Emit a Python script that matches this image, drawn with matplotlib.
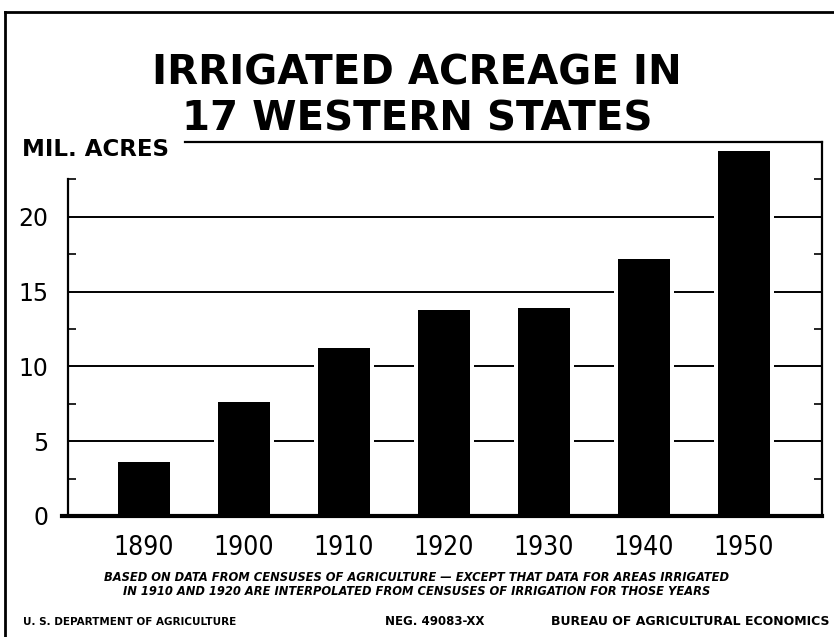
import matplotlib.pyplot as plt
import matplotlib.lines as mlines
from matplotlib.ticker import FixedLocator

years = ['1890', '1900', '1910', '1920', '1930', '1940', '1950']
acres = [3.6, 7.6, 11.2, 13.8, 13.9, 17.2, 24.4]  # million acres
yticks = [0, 5, 10, 15, 20]
minor_ticks = [2.5, 7.5, 12.5, 17.5, 22.5]

note1 = 'BASED ON DATA FROM CENSUSES OF AGRICULTURE \u2014 EXCEPT THAT DATA FOR AREAS IRRIGATED'
note2 = 'IN 1910 AND 1920 ARE INTERPOLATED FROM CENSUSES OF IRRIGATION FOR THOSE YEARS'

fig = plt.figure(figsize=(8.34, 6.37), dpi=100, facecolor='white')
ax = fig.add_axes([0.0815, 0.190, 0.904, 0.587])

x = list(range(len(years)))

# grid lines first; a wider white bar behind each black bar so lines stop short
for v in yticks[1:]:
    ax.axhline(v, color='black', lw=1.4, zorder=1)
ax.bar(x, acres, width=0.60, color='white', zorder=1.5)
ax.bar(x, acres, width=0.52, color='black', zorder=2)
ax.axhline(0, xmin=-0.008, color='black', lw=3, zorder=3, clip_on=False)

ax.set_xlim(-0.76, 6.78)
ax.set_ylim(0, 25)

ax.set_xticks(x)
ax.set_xticklabels(years, fontsize=19, fontstretch='condensed')
ax.set_yticks(yticks)
ax.set_yticklabels([str(v) for v in yticks], fontsize=17, fontweight='medium')
ax.yaxis.set_minor_locator(FixedLocator(minor_ticks))
ax.tick_params(axis='x', length=0, pad=14)
ax.tick_params(axis='y', which='major', length=0, pad=14)
ax.tick_params(axis='y', which='minor', direction='in', length=6, width=1.2,
               left=True, right=True)

ax.spines['bottom'].set_visible(False)
ax.spines['left'].set_bounds(0, 22.5)
ax.spines['top'].set_bounds(0.41, 6.78)
for s in ['left', 'right', 'top']:
    ax.spines[s].set_linewidth(1.6)

fig.text(0.026, 0.765, 'MIL. ACRES', ha='left', va='center',
         fontsize=16.5, fontweight='bold')

fig.text(0.5, 0.884, 'IRRIGATED ACREAGE IN', ha='center', va='center',
         fontsize=29, fontweight='bold')
fig.text(0.5, 0.812, '17 WESTERN STATES', ha='center', va='center',
         fontsize=29, fontweight='bold')

fig.text(0.5, 0.094, note1, ha='center', va='center', fontsize=8.3,
         fontweight='bold', fontstyle='italic')
fig.text(0.5, 0.072, note2, ha='center', va='center', fontsize=8.3,
         fontweight='bold', fontstyle='italic')
fig.text(0.027, 0.024, 'U. S. DEPARTMENT OF AGRICULTURE', ha='left', va='center',
         fontsize=7.5, fontweight='bold')
fig.text(0.462, 0.024, 'NEG. 49083-XX', ha='left', va='center',
         fontsize=8.5, fontweight='bold')
fig.text(0.995, 0.024, 'BUREAU OF AGRICULTURAL ECONOMICS',
         ha='right', va='center', fontsize=9, fontweight='bold')

# outer frame: left and top edges
fig.add_artist(mlines.Line2D([0.006, 0.006], [0, 0.981], color='black', lw=2))
fig.add_artist(mlines.Line2D([0.006, 1.0], [0.981, 0.981], color='black', lw=2))

fig.savefig('out.png', dpi=100, facecolor='white')
